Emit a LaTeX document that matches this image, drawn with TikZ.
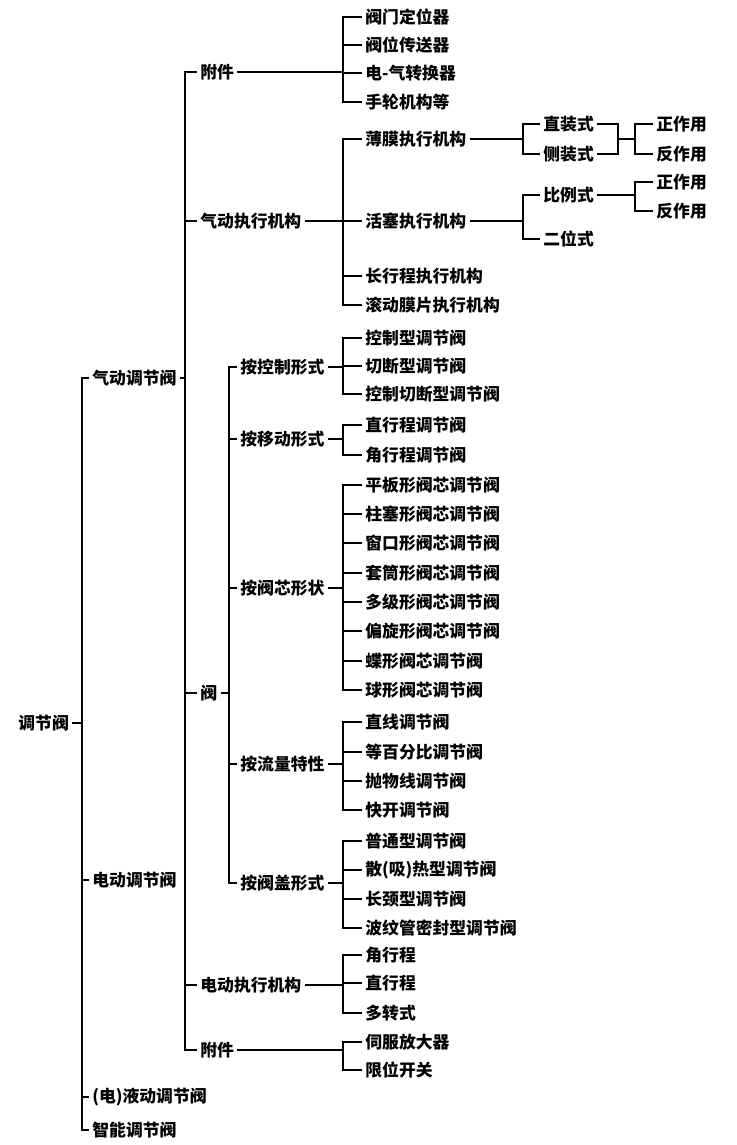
\documentclass[tikz,border=0pt]{standalone}
\usepackage{fontspec}
\setmainfont{Noto Sans CJK SC}
\begin{document}
\begin{tikzpicture}[x=0.5pt, y=-0.5pt,
  lbl/.style={anchor=west, inner sep=1.5pt, font=\fontsize{8.4}{9}\selectfont\bfseries},
  link/.style={line width=0.8pt}]
  \useasboundingbox (0,0) rectangle (736,1145);
  \coordinate (bus0) at (82,0);
  \coordinate (bus1) at (185,0);
  \coordinate (bus2) at (229,0);
  \coordinate (bus3) at (343,0);
  \coordinate (bus4) at (523,0);
  \coordinate (bus5) at (618,0);
  \coordinate (bus6) at (635,0);

  \node[lbl] (root) at (15,723) {调节阀};
  \node[lbl] (pneu) at (89,378) {气动调节阀};
  \node[lbl] (elec) at (89,880) {电动调节阀};
  \node[lbl] (hydr) at (89,1097) {(电)液动调节阀};
  \node[lbl] (smart) at (89,1130) {智能调节阀};

  \node[lbl] (acc) at (197,72) {附件};
  \node[lbl] (pact) at (197,221) {气动执行机构};
  \node[lbl] (valve) at (197,693) {阀};
  \node[lbl] (eact) at (197,985) {电动执行机构};
  \node[lbl] (eacc) at (197,1050) {附件};

  \node[lbl] (acc1) at (362,17) {阀门定位器};
  \node[lbl] (acc2) at (362,45) {阀位传送器};
  \node[lbl] (acc3) at (362,73) {电-气转换器};
  \node[lbl] (acc4) at (362,102) {手轮机构等};

  \node[lbl] (film) at (362,139) {薄膜执行机构};
  \node[lbl] (piston) at (362,221) {活塞执行机构};
  \node[lbl] (longst) at (362,276) {长行程执行机构};
  \node[lbl] (rollf) at (362,305) {滚动膜片执行机构};

  \node[lbl] (direct) at (540,124) {直装式};
  \node[lbl] (side) at (540,154) {侧装式};
  \node[lbl] (fpos) at (653,124) {正作用};
  \node[lbl] (fneg) at (653,154) {反作用};
  \node[lbl] (prop) at (540,195) {比例式};
  \node[lbl] (twop) at (540,239) {二位式};
  \node[lbl] (ppos) at (653,182) {正作用};
  \node[lbl] (pneg) at (653,211) {反作用};

  \node[lbl] (byctrl) at (237,367) {按控制形式};
  \node[lbl] (bymove) at (237,439) {按移动形式};
  \node[lbl] (bycore) at (237,588) {按阀芯形状};
  \node[lbl] (byflow) at (237,764) {按流量特性};
  \node[lbl] (bycover) at (237,883) {按阀盖形式};

  \node[lbl] (ctrl1) at (362,338) {控制型调节阀};
  \node[lbl] (ctrl2) at (362,366) {切断型调节阀};
  \node[lbl] (ctrl3) at (362,394) {控制切断型调节阀};

  \node[lbl] (move1) at (362,425) {直行程调节阀};
  \node[lbl] (move2) at (362,455) {角行程调节阀};

  \node[lbl] (core1) at (362,485) {平板形阀芯调节阀};
  \node[lbl] (core2) at (362,514) {柱塞形阀芯调节阀};
  \node[lbl] (core3) at (362,543) {窗口形阀芯调节阀};
  \node[lbl] (core4) at (362,573) {套筒形阀芯调节阀};
  \node[lbl] (core5) at (362,602) {多级形阀芯调节阀};
  \node[lbl] (core6) at (362,631) {偏旋形阀芯调节阀};
  \node[lbl] (core7) at (362,661) {蝶形阀芯调节阀};
  \node[lbl] (core8) at (362,690) {球形阀芯调节阀};

  \node[lbl] (flow1) at (362,722) {直线调节阀};
  \node[lbl] (flow2) at (362,752) {等百分比调节阀};
  \node[lbl] (flow3) at (362,781) {抛物线调节阀};
  \node[lbl] (flow4) at (362,810) {快开调节阀};

  \node[lbl] (cover1) at (362,841) {普通型调节阀};
  \node[lbl] (cover2) at (362,870) {散(吸)热型调节阀};
  \node[lbl] (cover3) at (362,899) {长颈型调节阀};
  \node[lbl] (cover4) at (362,928) {波纹管密封型调节阀};

  \node[lbl] (eact1) at (362,955) {角行程};
  \node[lbl] (eact2) at (362,983) {直行程};
  \node[lbl] (eact3) at (362,1013) {多转式};

  \node[lbl] (eacc1) at (362,1042) {伺服放大器};
  \node[lbl] (eacc2) at (362,1070) {限位开关};

  \draw[link] (root.east) -- (root.east -| bus0);
  \draw[link] (pneu.west) -- (pneu.west -| bus0) -- (smart.west -| bus0) -- (smart.west);
  \draw[link] (elec.west) -- (elec.west -| bus0);
  \draw[link] (hydr.west) -- (hydr.west -| bus0);

  \draw[link] (pneu.east) -- (pneu.east -| bus1);
  \draw[link] (acc.west) -- (acc.west -| bus1) -- (eacc.west -| bus1) -- (eacc.west);
  \draw[link] (pact.west) -- (pact.west -| bus1);
  \draw[link] (valve.west) -- (valve.west -| bus1);
  \draw[link] (eact.west) -- (eact.west -| bus1);

  \draw[link] (acc.east) -- (acc.east -| bus3);
  \draw[link] (acc1.west) -- (acc1.west -| bus3) -- (acc4.west -| bus3) -- (acc4.west);
  \draw[link] (acc2.west) -- (acc2.west -| bus3);
  \draw[link] (acc3.west) -- (acc3.west -| bus3);

  \draw[link] (pact.east) -- (pact.east -| bus3);
  \draw[link] (film.west) -- (film.west -| bus3) -- (rollf.west -| bus3) -- (rollf.west);
  \draw[link] (piston.west) -- (piston.west -| bus3);
  \draw[link] (longst.west) -- (longst.west -| bus3);

  \draw[link] (film.east) -- (film.east -| bus4);
  \draw[link] (direct.west) -- (direct.west -| bus4) -- (side.west -| bus4) -- (side.west);
  \draw[link] (direct.east) -- (direct.east -| bus5) -- (side.east -| bus5) -- (side.east);
  \draw[link] (film.east -| bus5) -- (film.east -| bus6);
  \draw[link] (fpos.west) -- (fpos.west -| bus6) -- (fneg.west -| bus6) -- (fneg.west);

  \draw[link] (piston.east) -- (piston.east -| bus4);
  \draw[link] (prop.west) -- (prop.west -| bus4) -- (twop.west -| bus4) -- (twop.west);
  \draw[link] (prop.east) -- (prop.east -| bus6);
  \draw[link] (ppos.west) -- (ppos.west -| bus6) -- (pneg.west -| bus6) -- (pneg.west);

  \draw[link] (valve.east) -- (valve.east -| bus2);
  \draw[link] (byctrl.west) -- (byctrl.west -| bus2) -- (bycover.west -| bus2) -- (bycover.west);
  \draw[link] (bymove.west) -- (bymove.west -| bus2);
  \draw[link] (bycore.west) -- (bycore.west -| bus2);
  \draw[link] (byflow.west) -- (byflow.west -| bus2);

  \draw[link] (byctrl.east) -- (byctrl.east -| bus3);
  \draw[link] (ctrl1.west) -- (ctrl1.west -| bus3) -- (ctrl3.west -| bus3) -- (ctrl3.west);
  \draw[link] (ctrl2.west) -- (ctrl2.west -| bus3);

  \draw[link] (bymove.east) -- (bymove.east -| bus3);
  \draw[link] (move1.west) -- (move1.west -| bus3) -- (move2.west -| bus3) -- (move2.west);

  \draw[link] (bycore.east) -- (bycore.east -| bus3);
  \draw[link] (core1.west) -- (core1.west -| bus3) -- (core8.west -| bus3) -- (core8.west);
  \foreach \n in {core2,core3,core4,core5,core6,core7}
    \draw[link] (\n.west) -- (\n.west -| bus3);

  \draw[link] (byflow.east) -- (byflow.east -| bus3);
  \draw[link] (flow1.west) -- (flow1.west -| bus3) -- (flow4.west -| bus3) -- (flow4.west);
  \draw[link] (flow2.west) -- (flow2.west -| bus3);
  \draw[link] (flow3.west) -- (flow3.west -| bus3);

  \draw[link] (bycover.east) -- (bycover.east -| bus3);
  \draw[link] (cover1.west) -- (cover1.west -| bus3) -- (cover4.west -| bus3) -- (cover4.west);
  \draw[link] (cover2.west) -- (cover2.west -| bus3);
  \draw[link] (cover3.west) -- (cover3.west -| bus3);

  \draw[link] (eact.east) -- (eact.east -| bus3);
  \draw[link] (eact1.west) -- (eact1.west -| bus3) -- (eact3.west -| bus3) -- (eact3.west);
  \draw[link] (eact2.west) -- (eact2.west -| bus3);

  \draw[link] (eacc.east) -- (eacc.east -| bus3);
  \draw[link] (eacc1.west) -- (eacc1.west -| bus3) -- (eacc2.west -| bus3) -- (eacc2.west);
\end{tikzpicture}
\end{document}
